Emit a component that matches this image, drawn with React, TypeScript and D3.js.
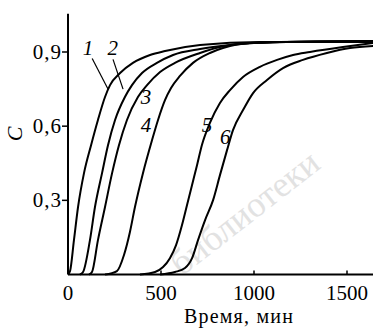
import * as d3 from 'd3';
import { useEffect, useRef } from 'react';

// time, min -> concentration C
const curve1: [number, number][] = [
  [0, 0], [11, 0.014], [32, 0.139], [54, 0.273], [86, 0.41], [124, 0.523], [161, 0.625],
  [199, 0.718], [226, 0.766], [280, 0.815], [349, 0.856], [441, 0.888], [522, 0.904],
  [710, 0.928], [1032, 0.94], [1640, 0.94]
];
const curve2: [number, number][] = [
  [64, 0], [81, 0.01], [118, 0.139], [145, 0.273], [183, 0.41], [215, 0.523], [253, 0.625],
  [306, 0.718], [344, 0.766], [398, 0.815], [478, 0.856], [565, 0.888], [710, 0.912],
  [871, 0.928], [1140, 0.94], [1640, 0.944]
];
const curve3: [number, number][] = [
  [113, 0], [129, 0.01], [161, 0.139], [199, 0.273], [237, 0.41], [274, 0.523], [317, 0.625],
  [376, 0.718], [425, 0.766], [495, 0.819], [575, 0.856], [710, 0.896], [817, 0.92],
  [978, 0.936], [1640, 0.944]
];
const curve4: [number, number][] = [
  [199, 0], [263, 0.014], [301, 0.079], [333, 0.172], [360, 0.273], [403, 0.41], [452, 0.544],
  [484, 0.625], [522, 0.706], [554, 0.754], [602, 0.803], [672, 0.856], [763, 0.896],
  [833, 0.916], [978, 0.936], [1640, 0.944]
];
const curve5: [number, number][] = [
  [387, 0], [468, 0.01], [511, 0.03], [548, 0.066], [581, 0.119], [613, 0.2], [640, 0.281],
  [667, 0.362], [694, 0.443], [720, 0.524], [763, 0.613], [817, 0.694], [871, 0.746],
  [941, 0.799], [1032, 0.84], [1124, 0.868], [1210, 0.888], [1301, 0.9], [1478, 0.92],
  [1640, 0.936]
];
const curve6: [number, number][] = [
  [495, 0], [575, 0.01], [629, 0.026], [667, 0.066], [699, 0.139], [737, 0.22], [780, 0.301],
  [817, 0.402], [855, 0.503], [887, 0.584], [941, 0.665], [995, 0.734], [1070, 0.787],
  [1156, 0.835], [1263, 0.868], [1392, 0.896], [1516, 0.916], [1640, 0.924]
];
const curves = [curve1, curve2, curve3, curve4, curve5, curve6];

const curveNames = ['1', '2', '3', '4', '5', '6'];
// label anchor in data units (time, C)
const labelAt: [number, number][] = [
  [107, 0.917], [240, 0.917], [420, 0.717], [420, 0.605], [747, 0.605], [845, 0.556]
];
const xTicks = [0, 500, 1000, 1500];
const yTicks = [0.3, 0.6, 0.9];
const xTitle = 'Время, мин';
const yTitle = 'C';
const watermark = 'библиотеки';

export default function App() {
  const ref = useRef<SVGSVGElement | null>(null);

  useEffect(() => {
    const svg = d3.select(ref.current);
    svg.selectAll('*').remove();
    const width = 373;
    const height = 328;
    const font = "'Liberation Serif', 'Times New Roman', serif";

    const x = d3.scaleLinear().domain([0, 1500]).range([68, 347]);
    const y = d3.scaleLinear().domain([0, 0.9]).range([274.5, 52]);

    svg.append('rect').attr('width', width).attr('height', height).attr('fill', '#fff');

    // faint watermark of the scan
    svg
      .append('text')
      .attr('transform', 'translate(252,222) rotate(-38)')
      .attr('text-anchor', 'middle')
      .attr('font-family', font)
      .attr('font-size', 36)
      .attr('fill', '#e2e2e2')
      .text(watermark);

    // axes
    svg.append('line').attr('x1', x(0)).attr('x2', width).attr('y1', y(0)).attr('y2', y(0))
      .attr('stroke', '#000').attr('stroke-width', 2);
    svg.append('line').attr('x1', x(0)).attr('x2', x(0)).attr('y1', y(0)).attr('y2', y(1.055))
      .attr('stroke', '#000').attr('stroke-width', 2);

    const xt = svg.append('g');
    xt.selectAll('line').data(xTicks.filter((d) => d > 0)).enter().append('line')
      .attr('x1', (d) => x(d)).attr('x2', (d) => x(d))
      .attr('y1', y(0)).attr('y2', y(0) - 4)
      .attr('stroke', '#000').attr('stroke-width', 1.5);
    xt.selectAll('text').data(xTicks).enter().append('text')
      .attr('x', (d) => x(d)).attr('y', 300)
      .attr('text-anchor', 'middle')
      .attr('font-family', font).attr('font-size', 21)
      .text((d) => String(d));

    const yt = svg.append('g');
    yt.selectAll('line').data(yTicks).enter().append('line')
      .attr('x1', x(0) - 6).attr('x2', x(0))
      .attr('y1', (d) => y(d)).attr('y2', (d) => y(d))
      .attr('stroke', '#000').attr('stroke-width', 1.5);
    yt.selectAll('text').data(yTicks).enter().append('text')
      .attr('x', x(0) - 6).attr('y', (d) => y(d) + 7)
      .attr('text-anchor', 'end')
      .attr('font-family', font).attr('font-size', 21).attr('letter-spacing', 1)
      .text((d) => d.toFixed(1).replace('.', ','));

    svg.append('text')
      .attr('x', 239).attr('y', 323)
      .attr('text-anchor', 'middle')
      .attr('font-family', font).attr('font-size', 20).attr('letter-spacing', 1.2)
      .text(xTitle);

    svg.append('text')
      .attr('transform', 'translate(22,134) rotate(-90)')
      .attr('text-anchor', 'middle')
      .attr('font-family', font).attr('font-size', 22).attr('font-style', 'italic')
      .text(yTitle);

    // curves
    const line = d3.line<[number, number]>()
      .x((d) => x(d[0]))
      .y((d) => y(d[1]))
      .curve(d3.curveMonotoneX);

    svg.append('g').selectAll('path').data(curves).enter().append('path')
      .attr('d', (d) => line(d))
      .attr('fill', 'none')
      .attr('stroke', '#000')
      .attr('stroke-width', 2);

    // curve numbers
    svg.append('g').selectAll('text').data(curveNames).enter().append('text')
      .attr('x', (_, i) => x(labelAt[i][0]))
      .attr('y', (_, i) => y(labelAt[i][1]) + 7)
      .attr('text-anchor', 'middle')
      .attr('font-family', font).attr('font-size', 21).attr('font-style', 'italic')
      .text((d) => d);

    // leader lines for 1 and 2
    const leaders = [
      [[130, 0.874], [215, 0.75]],
      [[242, 0.87], [296, 0.75]]
    ];
    svg.append('g').selectAll('line').data(leaders).enter().append('line')
      .attr('x1', (d) => x(d[0][0])).attr('y1', (d) => y(d[0][1]))
      .attr('x2', (d) => x(d[1][0])).attr('y2', (d) => y(d[1][1]))
      .attr('stroke', '#000').attr('stroke-width', 1.2);
  }, []);

  return (
    <svg
      ref={ref}
      width={373}
      height={328}
      style={{ position: 'absolute', left: 0, top: 0 }}
    />
  );
}
